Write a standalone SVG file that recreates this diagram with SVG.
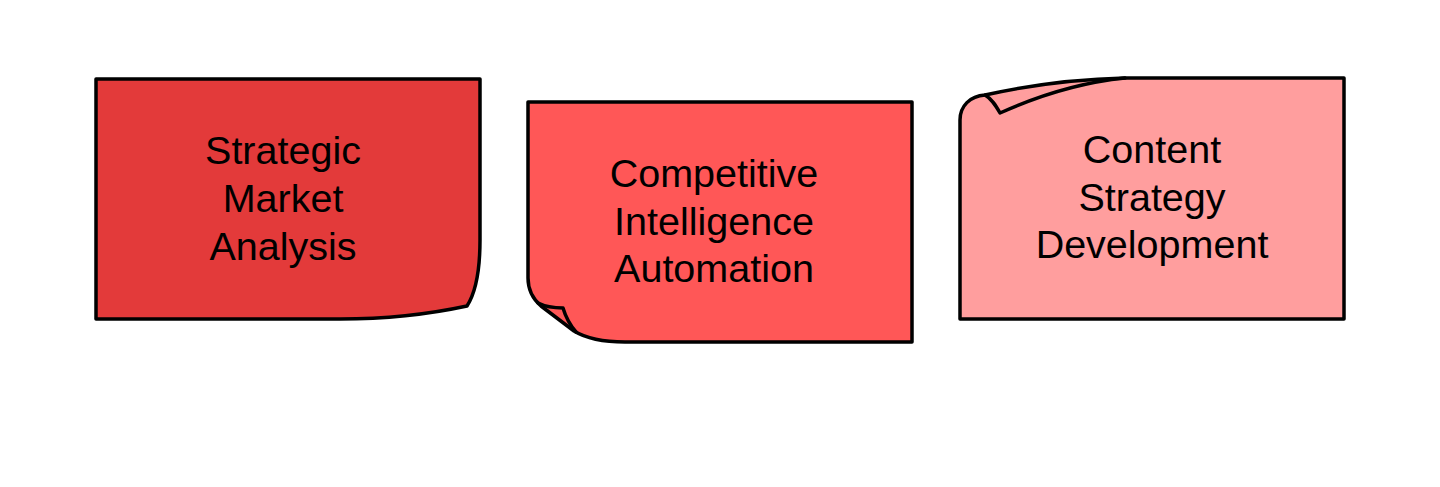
<svg xmlns="http://www.w3.org/2000/svg" width="1440" height="487" viewBox="0 0 1440 487">
<style>
.box{stroke:#000;stroke-width:3.5;stroke-linejoin:round;stroke-linecap:round}
.fold{fill:none;stroke:#000;stroke-width:3.5;stroke-linejoin:round;stroke-linecap:round}
.lbl{font-family:"Liberation Sans",Arial,sans-serif;font-size:39.5px;fill:#000;text-anchor:middle}
</style>
<rect width="1440" height="487" fill="#fff"/>
<g id="connectors"/>
<g id="node1">
<path class="box" fill="#E33A3A" d="M96,79 H480 V240 C480,270 476,292 467,306 C430,314 390,319 340,319 H96 Z"/>
<text class="lbl" x="283" y="164">Strategic</text>
<text class="lbl" x="283" y="212">Market</text>
<text class="lbl" x="283" y="260">Analysis</text>
</g>
<g id="node2">
<path class="box" fill="#FF5757" d="M528,102 H912 V342 H625 C603,342 587,339 574,331 L541,306 C533,299 528,291 528,278 Z"/>
<path class="fold" fill="#FF5757" d="M538,303 C546,307 554,308 563,308 C566,318 570,325 576,332"/>
<text class="lbl" x="714" y="187">Competitive</text>
<text class="lbl" x="714" y="235">Intelligence</text>
<text class="lbl" x="714" y="282">Automation</text>
</g>
<g id="node3">
<path class="box" fill="#FF9E9E" d="M960,319 V120 C960,106 970,96 985,95 C1030,85 1080,79 1125,78 H1344 V319 Z"/>
<path class="fold" d="M985,95 C992,99 996,106 1000,113 C1040,95 1085,82 1125,78"/>
<text class="lbl" x="1152" y="163">Content</text>
<text class="lbl" x="1152" y="211">Strategy</text>
<text class="lbl" x="1152" y="258">Development</text>
</g>
</svg>
